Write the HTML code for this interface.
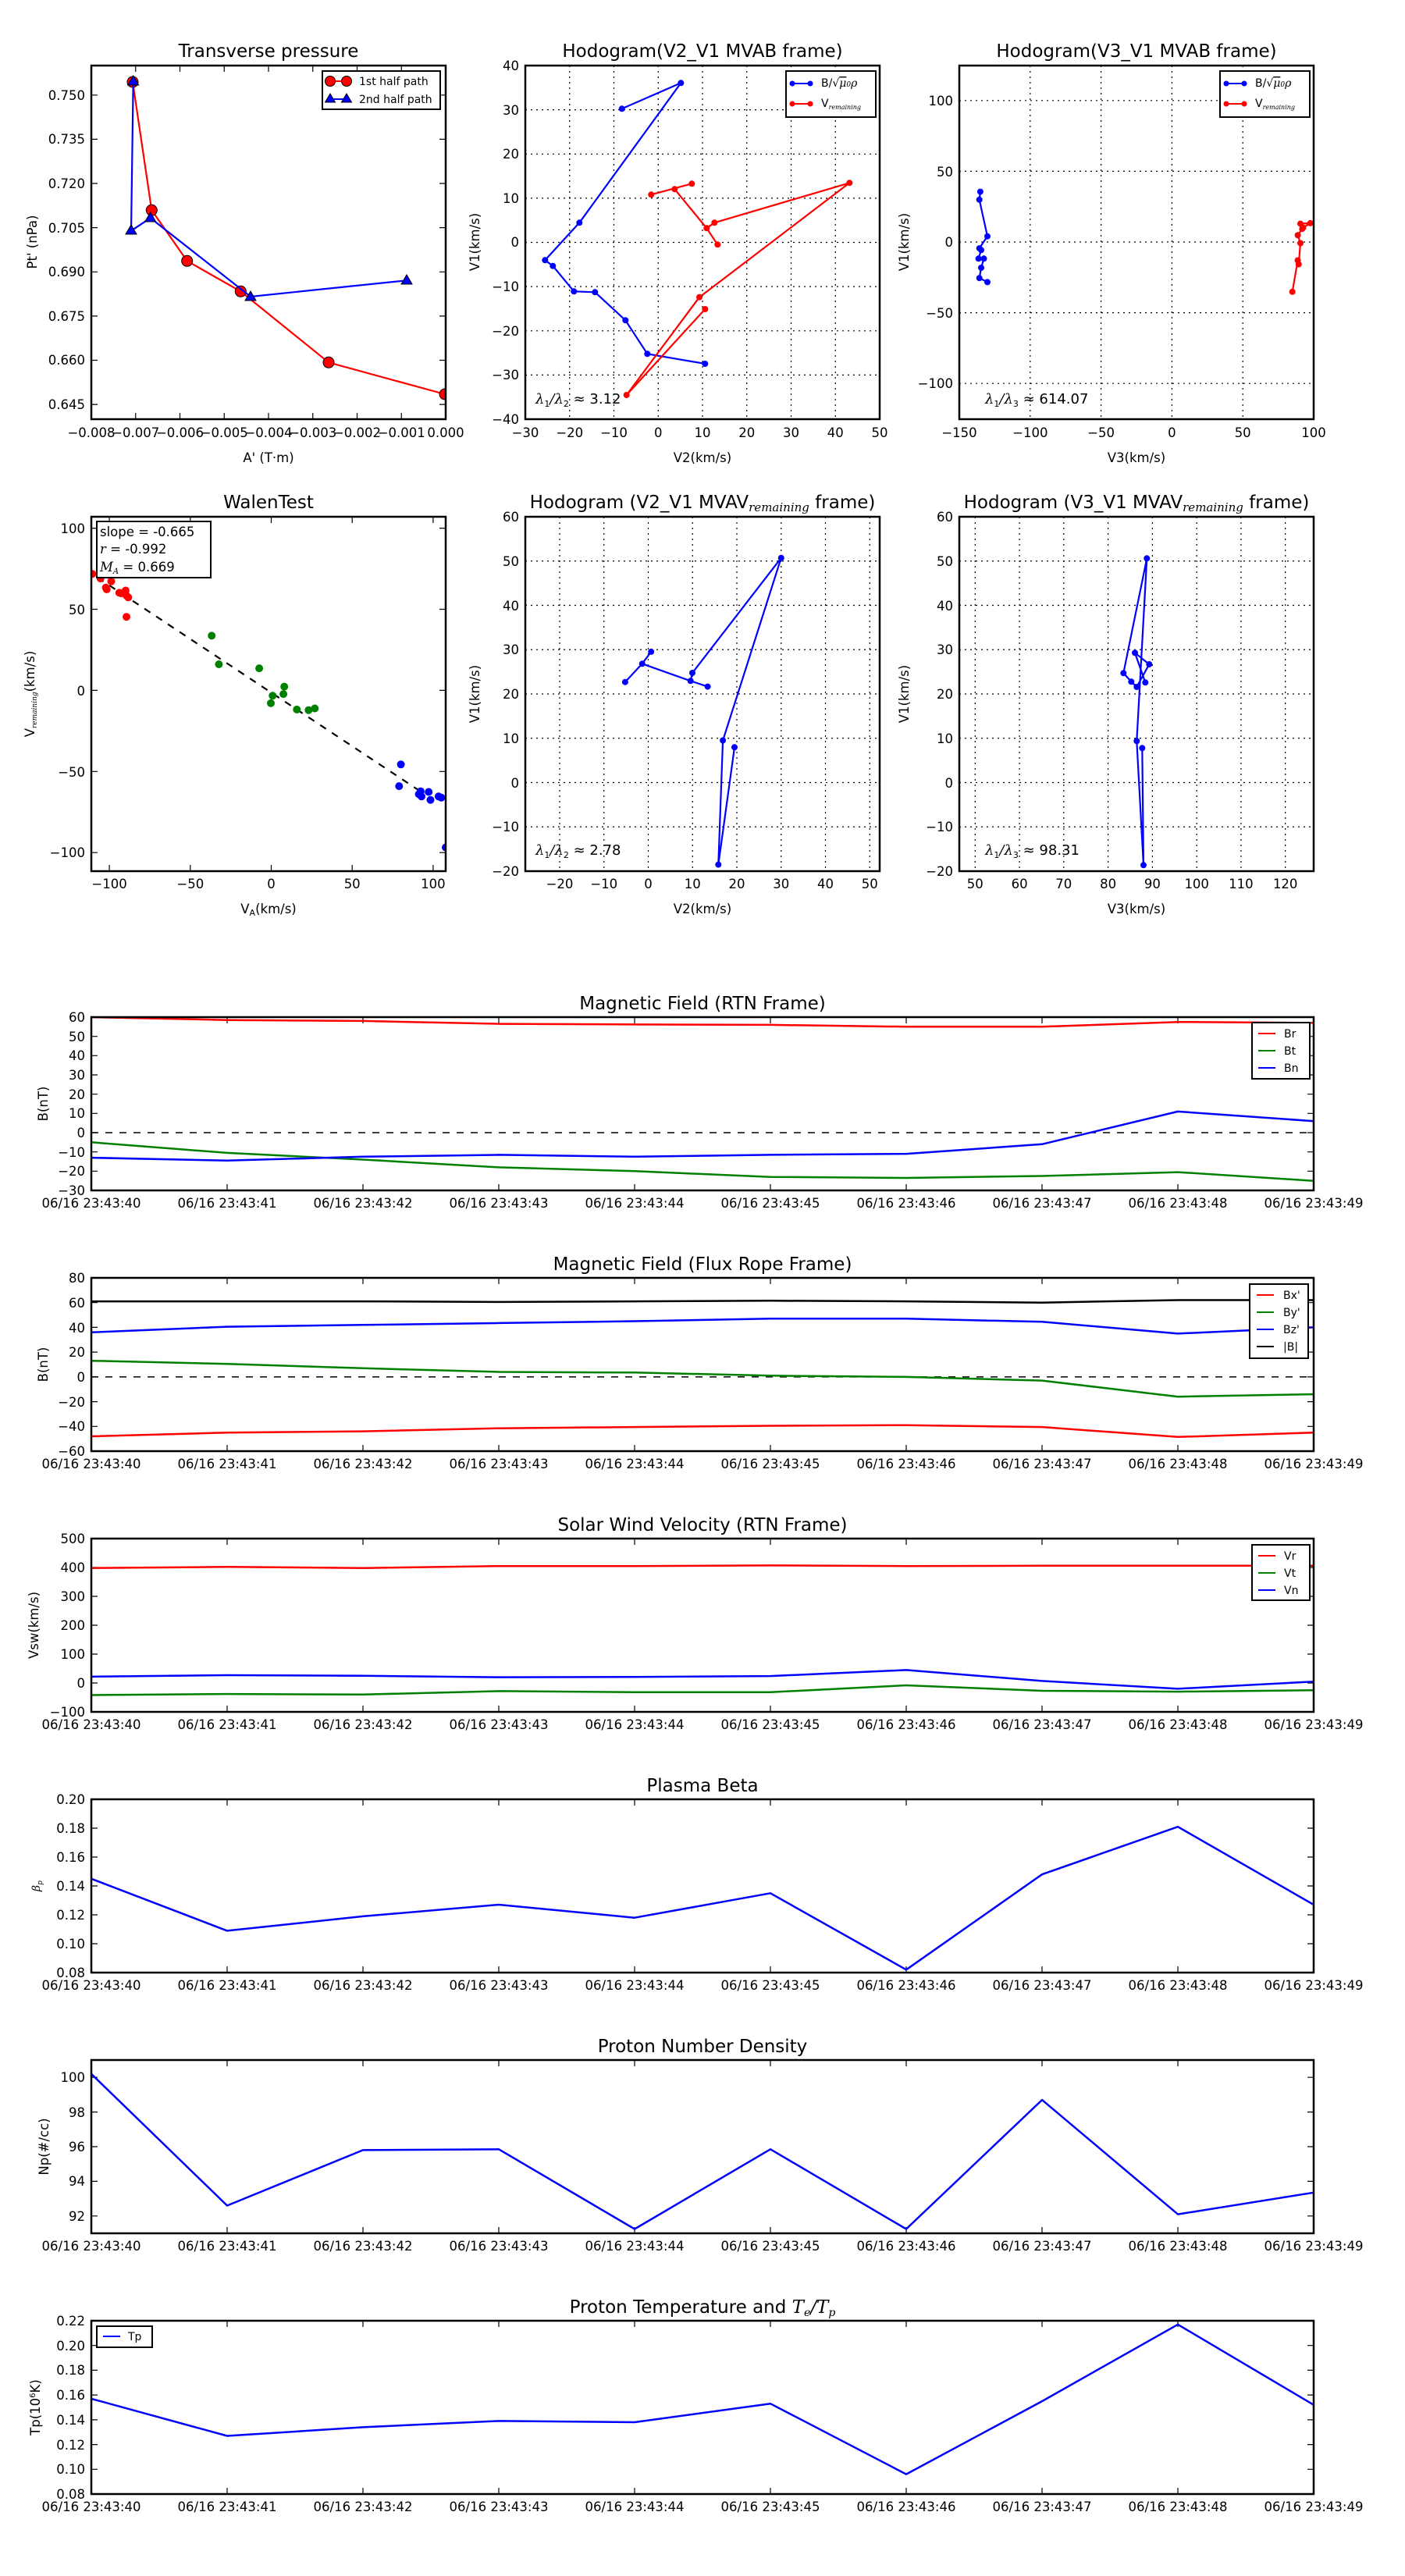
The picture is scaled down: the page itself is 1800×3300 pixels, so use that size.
<!DOCTYPE html>
<html><head><meta charset="utf-8"><style>
html,body{margin:0;padding:0;background:#fff}
svg{display:block}
text{font-family:"DejaVu Sans","Liberation Sans",sans-serif;fill:#000}
.t{font-size:23px;text-anchor:middle}
.tk{font-size:16.5px}
.r{text-anchor:end}
.m{text-anchor:middle}
.lg{font-size:14px}
.ax{fill:none;stroke:#000;stroke-width:2.5}
.tick{stroke:#000;stroke-width:1.2;fill:none}
.grid{stroke:#000;stroke-width:1.2;stroke-dasharray:2 5;fill:none}
.ln{fill:none;stroke-width:2.2;stroke-linejoin:round}
.ts{fill:none;stroke-width:2.5;stroke-linejoin:round}
.mi{font-family:"DejaVu Serif","Liberation Serif",serif;font-style:italic}
</style></head><body>
<svg width="1800" height="3300" viewBox="0 0 1800 3300" xmlns="http://www.w3.org/2000/svg">
<rect width="1800" height="3300" fill="#fff"/>

<!-- ============ Panel 1: Transverse pressure ============ -->
<text class="t" x="344" y="73">Transverse pressure</text>
<path class="tick" d="M173.75,537v-8M230.5,537v-8M287.25,537v-8M344,537v-8M400.75,537v-8M457.5,537v-8M514.25,537v-8M173.75,84v8M230.5,84v8M287.25,84v8M344,84v8M400.75,84v8M457.5,84v8M514.25,84v8
M117,518.1h8M117,461.5h8M117,404.9h8M117,348.3h8M117,291.6h8M117,235h8M117,178.4h8M117,121.8h8
M571,518.1h-8M571,461.5h-8M571,404.9h-8M571,348.3h-8M571,291.6h-8M571,235h-8M571,178.4h-8M571,121.8h-8"/>
<g class="tk r">
<text x="109" y="524">0.645</text><text x="109" y="467">0.660</text><text x="109" y="411">0.675</text><text x="109" y="354">0.690</text><text x="109" y="298">0.705</text><text x="109" y="241">0.720</text><text x="109" y="184">0.735</text><text x="109" y="128">0.750</text>
</g>
<g class="tk m">
<text x="117" y="560">−0.008</text><text x="173.75" y="560">−0.007</text><text x="230.5" y="560">−0.006</text><text x="287.25" y="560">−0.005</text><text x="344" y="560">−0.004</text><text x="400.75" y="560">−0.003</text><text x="457.5" y="560">−0.002</text><text x="514.25" y="560">−0.001</text><text x="571" y="560">0.000</text>
</g>
<text class="tk m" x="344" y="592">A' (T·m)</text>
<text class="tk m" transform="rotate(-90 47 310)" x="47" y="310">Pt' (nPa)</text>
<svg x="117" y="84" width="454" height="453" overflow="hidden"><g transform="translate(-117,-84)">
<polyline class="ln" stroke="#f00" points="170,105 194.3,269.3 239.7,334.3 308.3,373.3 421,464.3 570,505"/>
<g fill="#f00" stroke="#000" stroke-width="1"><circle cx="170" cy="105" r="7"/><circle cx="194.3" cy="269.3" r="7"/><circle cx="239.7" cy="334.3" r="7"/><circle cx="308.3" cy="373.3" r="7"/><circle cx="421" cy="464.3" r="7"/><circle cx="570" cy="505" r="7"/></g>
<polyline class="ln" stroke="#00f" points="170.7,105 168,295.7 192.7,279.3 321,380 521,359.3"/>
<g fill="#00f" stroke="#000" stroke-width="1">
<path d="M170.7,97l7,12h-14z"/><path d="M168,288l7,12h-14z"/><path d="M192.7,272l7,12h-14z"/><path d="M321,373l7,12h-14z"/><path d="M521,352l7,12h-14z"/></g>
</g></svg>
<rect x="413" y="91" width="151" height="49" fill="#fff" stroke="#000" stroke-width="2"/>
<line x1="423" y1="104" x2="444" y2="104" stroke="#f00" stroke-width="2"/>
<circle cx="423" cy="104" r="6.5" fill="#f00" stroke="#000"/><circle cx="444" cy="104" r="6.5" fill="#f00" stroke="#000"/>
<text class="lg" x="460" y="109">1st half path</text>
<line x1="423" y1="127" x2="444" y2="127" stroke="#00f" stroke-width="2"/>
<path d="M423,120l6.5,11h-13zM444,120l6.5,11h-13z" fill="#00f" stroke="#000"/>
<text class="lg" x="460" y="132">2nd half path</text>
<rect class="ax" x="117" y="84" width="454" height="453"/>

<!-- ============ Panel 2: Hodogram V2_V1 MVAB ============ -->
<text class="t" x="900" y="73">Hodogram(V2_V1 MVAB frame)</text>
<path class="grid" d="M729.75,84V537M786.5,84V537M843.25,84V537M900,84V537M956.75,84V537M1013.5,84V537M1070.25,84V537
M673,140.6H1127M673,197.3H1127M673,253.9H1127M673,310.5H1127M673,367.1H1127M673,423.8H1127M673,480.4H1127"/>
<g class="tk r">
<text x="665" y="90">40</text><text x="665" y="147">30</text><text x="665" y="203">20</text><text x="665" y="260">10</text><text x="665" y="316">0</text><text x="665" y="373">−10</text><text x="665" y="430">−20</text><text x="665" y="486">−30</text><text x="665" y="543">−40</text>
</g>
<g class="tk m">
<text x="673" y="560">−30</text><text x="729.75" y="560">−20</text><text x="786.5" y="560">−10</text><text x="843.25" y="560">0</text><text x="900" y="560">10</text><text x="956.75" y="560">20</text><text x="1013.5" y="560">30</text><text x="1070.25" y="560">40</text><text x="1127" y="560">50</text>
</g>
<text class="tk m" x="900" y="592">V2(km/s)</text>
<text class="tk m" transform="rotate(-90 614 310)" x="614" y="310">V1(km/s)</text>
<polyline class="ln" stroke="#00f" points="796.7,139.3 872.3,106.3 742.3,285.3 698.3,333.3 708.3,340.7 735.3,373.3 762.3,374.3 801.3,410.3 829.3,453.3 903.3,466"/>
<g fill="#00f"><circle cx="796.7" cy="139.3" r="4"/><circle cx="872.3" cy="106.3" r="4"/><circle cx="742.3" cy="285.3" r="4"/><circle cx="698.3" cy="333.3" r="4"/><circle cx="708.3" cy="340.7" r="4"/><circle cx="735.3" cy="373.3" r="4"/><circle cx="762.3" cy="374.3" r="4"/><circle cx="801.3" cy="410.3" r="4"/><circle cx="829.3" cy="453.3" r="4"/><circle cx="903.3" cy="466" r="4"/></g>
<polyline class="ln" stroke="#f00" points="834.3,249.3 886.3,235.3"/>
<polyline class="ln" stroke="#f00" points="864.3,242.3 905.3,292.3 919.3,313.3"/>
<polyline class="ln" stroke="#f00" points="905.3,292.3 915.3,285.3 1088.3,234.3 896,380.7 802.7,506 903.3,396"/>
<g fill="#f00"><circle cx="834.3" cy="249.3" r="4"/><circle cx="886.3" cy="235.3" r="4"/><circle cx="864.3" cy="242.3" r="4"/><circle cx="905.3" cy="292.3" r="4"/><circle cx="919.3" cy="313.3" r="4"/><circle cx="915.3" cy="285.3" r="4"/><circle cx="1088.3" cy="234.3" r="4"/><circle cx="896" cy="380.7" r="4"/><circle cx="802.7" cy="506" r="4"/><circle cx="903.3" cy="396" r="4"/></g>
<text x="686" y="517" style="font-size:18px"><tspan class="mi">λ</tspan><tspan style="font-size:11px" dy="4">1</tspan><tspan dy="-4" class="mi">/λ</tspan><tspan style="font-size:11px" dy="4">2</tspan><tspan dy="-4"> ≈ 3.12</tspan></text>
<rect x="1007" y="91" width="115" height="59" fill="#fff" stroke="#000" stroke-width="2"/>
<line x1="1015" y1="107" x2="1038" y2="107" stroke="#00f" stroke-width="2"/><circle cx="1015" cy="107" r="3.5" fill="#00f"/><circle cx="1038" cy="107" r="3.5" fill="#00f"/>
<text class="lg" x="1052" y="111">B/√<tspan class="mi" text-decoration="overline">μ</tspan><tspan class="mi" style="font-size:9px">0</tspan><tspan class="mi">ρ</tspan></text>
<line x1="1015" y1="133" x2="1038" y2="133" stroke="#f00" stroke-width="2"/><circle cx="1015" cy="133" r="3.5" fill="#f00"/><circle cx="1038" cy="133" r="3.5" fill="#f00"/>
<text class="lg" x="1052" y="137">V<tspan class="mi" style="font-size:8px" dy="3">remaining</tspan></text>
<rect class="ax" x="673" y="84" width="454" height="453"/>

<!-- ============ Panel 3: Hodogram V3_V1 MVAB ============ -->
<text class="t" x="1456" y="73">Hodogram(V3_V1 MVAB frame)</text>
<path class="grid" d="M1319.8,84V537M1410.6,84V537M1501.4,84V537M1592.2,84V537M1229,128.8H1683M1229,219.4H1683M1229,310H1683M1229,400.6H1683M1229,491.2H1683"/>
<g class="tk r">
<text x="1221" y="135">100</text><text x="1221" y="226">50</text><text x="1221" y="316">0</text><text x="1221" y="407">−50</text><text x="1221" y="497">−100</text>
</g>
<g class="tk m">
<text x="1229" y="560">−150</text><text x="1319.8" y="560">−100</text><text x="1410.6" y="560">−50</text><text x="1501.4" y="560">0</text><text x="1592.2" y="560">50</text><text x="1683" y="560">100</text>
</g>
<text class="tk m" x="1456" y="592">V3(km/s)</text>
<text class="tk m" transform="rotate(-90 1164 310)" x="1164" y="310">V1(km/s)</text>
<polyline class="ln" stroke="#00f" points="1255.9,245.6 1254.7,255.8 1265,302.7 1254.7,318.1 1257,320.3 1253.6,331.3 1260.5,331.3 1257,343 1254.7,356.2 1265,361.4"/>
<g fill="#00f"><circle cx="1255.9" cy="245.6" r="4"/><circle cx="1254.7" cy="255.8" r="4"/><circle cx="1265" cy="302.7" r="4"/><circle cx="1254.7" cy="318.1" r="4"/><circle cx="1257" cy="320.3" r="4"/><circle cx="1253.6" cy="331.3" r="4"/><circle cx="1260.5" cy="331.3" r="4"/><circle cx="1257" cy="343" r="4"/><circle cx="1254.7" cy="356.2" r="4"/><circle cx="1265" cy="361.4" r="4"/></g>
<polyline class="ln" stroke="#f00" points="1655.7,373.8 1662.6,333.5 1663.8,338.6 1666,311.5 1662.6,301.3 1669.5,291.7 1678.7,285.9 1666,286.6 1668.3,293.2"/>
<g fill="#f00"><circle cx="1655.7" cy="373.8" r="4"/><circle cx="1662.6" cy="333.5" r="4"/><circle cx="1663.8" cy="338.6" r="4"/><circle cx="1666" cy="311.5" r="4"/><circle cx="1662.6" cy="301.3" r="4"/><circle cx="1669.5" cy="291.7" r="4"/><circle cx="1678.7" cy="285.9" r="4"/><circle cx="1666" cy="286.6" r="4"/><circle cx="1668.3" cy="293.2" r="4"/></g>
<text x="1262" y="517" style="font-size:18px"><tspan class="mi">λ</tspan><tspan style="font-size:11px" dy="4">1</tspan><tspan dy="-4" class="mi">/λ</tspan><tspan style="font-size:11px" dy="4">3</tspan><tspan dy="-4"> ≈ 614.07</tspan></text>
<rect x="1563" y="91" width="115" height="59" fill="#fff" stroke="#000" stroke-width="2"/>
<line x1="1571" y1="107" x2="1594" y2="107" stroke="#00f" stroke-width="2"/><circle cx="1571" cy="107" r="3.5" fill="#00f"/><circle cx="1594" cy="107" r="3.5" fill="#00f"/>
<text class="lg" x="1608" y="111">B/√<tspan class="mi" text-decoration="overline">μ</tspan><tspan class="mi" style="font-size:9px">0</tspan><tspan class="mi">ρ</tspan></text>
<line x1="1571" y1="133" x2="1594" y2="133" stroke="#f00" stroke-width="2"/><circle cx="1571" cy="133" r="3.5" fill="#f00"/><circle cx="1594" cy="133" r="3.5" fill="#f00"/>
<text class="lg" x="1608" y="137">V<tspan class="mi" style="font-size:8px" dy="3">remaining</tspan></text>
<rect class="ax" x="1229" y="84" width="454" height="453"/>

<!-- ============ Panel 4: WalenTest ============ -->
<text class="t" x="344" y="651">WalenTest</text>
<path class="tick" d="M140.1,1116v-8M243.8,1116v-8M347.5,1116v-8M451.2,1116v-8M554.9,1116v-8M140.1,662v8M243.8,662v8M347.5,662v8M451.2,662v8M554.9,662v8
M117,676.6h8M117,780.5h8M117,884.4h8M117,988.3h8M117,1092.2h8M571,676.6h-8M571,780.5h-8M571,884.4h-8M571,988.3h-8M571,1092.2h-8"/>
<g class="tk r">
<text x="109" y="683">100</text><text x="109" y="787">50</text><text x="109" y="891">0</text><text x="109" y="995">−50</text><text x="109" y="1098">−100</text>
</g>
<g class="tk m">
<text x="140.1" y="1138">−100</text><text x="243.8" y="1138">−50</text><text x="347.5" y="1138">0</text><text x="451.2" y="1138">50</text><text x="554.9" y="1138">100</text>
</g>
<text class="tk m" x="344" y="1170">V<tspan style="font-size:11px" dy="3">A</tspan><tspan dy="-3">(km/s)</tspan></text>
<text class="tk m" transform="rotate(-90 44 889)" x="44" y="889">V<tspan class="mi" style="font-size:9px" dy="3">remaining</tspan><tspan dy="-3">(km/s)</tspan></text>
<svg x="117" y="662" width="454" height="454" overflow="hidden"><g transform="translate(-117,-662)">
<line x1="110" y1="730" x2="545" y2="1018" stroke="#000" stroke-width="2.2" stroke-dasharray="9 9"/>
<g fill="#f00"><circle cx="118.3" cy="735.2" r="5"/><circle cx="128.7" cy="741" r="5"/><circle cx="136.7" cy="755" r="5"/><circle cx="135.6" cy="752.8" r="5"/><circle cx="142.5" cy="744.7" r="5"/><circle cx="155.1" cy="760.1" r="5"/><circle cx="160.9" cy="756.5" r="5"/><circle cx="162" cy="763" r="5"/><circle cx="164.3" cy="765.3" r="5"/><circle cx="162" cy="790.2" r="5"/><circle cx="152.8" cy="759.4" r="5"/></g>
<g fill="#008000"><circle cx="271.2" cy="814.4" r="5"/><circle cx="280.4" cy="851" r="5"/><circle cx="332.1" cy="856.1" r="5"/><circle cx="349.3" cy="891.3" r="5"/><circle cx="347" cy="900.9" r="5"/><circle cx="364.2" cy="879.6" r="5"/><circle cx="363.1" cy="889.1" r="5"/><circle cx="380.3" cy="908.9" r="5"/><circle cx="395.3" cy="909.7" r="5"/><circle cx="403.3" cy="907.5" r="5"/></g>
<g fill="#00f"><circle cx="513.6" cy="979.3" r="5"/><circle cx="511.3" cy="1007.1" r="5"/><circle cx="536.6" cy="1017.4" r="5"/><circle cx="540" cy="1020.3" r="5"/><circle cx="549.2" cy="1014.5" r="5"/><circle cx="551.5" cy="1024.7" r="5"/><circle cx="561.9" cy="1020.3" r="5"/><circle cx="565.3" cy="1021.8" r="5"/><circle cx="571" cy="1085.6" r="5"/><circle cx="538.9" cy="1013.7" r="5"/></g>
</g></svg>
<rect x="124" y="668" width="146" height="72" fill="#fff" stroke="#000" stroke-width="2"/>
<text class="tk" x="128" y="687">slope = -0.665</text>
<text class="tk" x="128" y="709"><tspan class="mi">r</tspan> = -0.992</text>
<text class="tk" x="128" y="732"><tspan class="mi">M</tspan><tspan class="mi" style="font-size:10px" dy="3">A</tspan><tspan dy="-3"> = 0.669</tspan></text>
<rect class="ax" x="117" y="662" width="454" height="454"/>

<!-- ============ Panel 5: Hodogram V2_V1 MVAV ============ -->
<text class="t" x="900" y="651">Hodogram (V2_V1 MVAV<tspan class="mi" style="font-size:15px" dy="4">remaining</tspan><tspan dy="-4"> frame)</tspan></text>
<path class="grid" d="M717,662V1116M773.75,662V1116M830.5,662V1116M887.25,662V1116M944,662V1116M1000.75,662V1116M1057.5,662V1116M1114.25,662V1116
M673,718.75H1127M673,775.5H1127M673,832.25H1127M673,889H1127M673,945.75H1127M673,1002.5H1127M673,1059.25H1127"/>
<g class="tk r">
<text x="665" y="668">60</text><text x="665" y="725">50</text><text x="665" y="782">40</text><text x="665" y="838">30</text><text x="665" y="895">20</text><text x="665" y="952">10</text><text x="665" y="1009">0</text><text x="665" y="1065">−10</text><text x="665" y="1122">−20</text>
</g>
<g class="tk m">
<text x="717" y="1138">−20</text><text x="773.75" y="1138">−10</text><text x="830.5" y="1138">0</text><text x="887.25" y="1138">10</text><text x="944" y="1138">20</text><text x="1000.75" y="1138">30</text><text x="1057.5" y="1138">40</text><text x="1114.25" y="1138">50</text>
</g>
<text class="tk m" x="900" y="1170">V2(km/s)</text>
<text class="tk m" transform="rotate(-90 614 889)" x="614" y="889">V1(km/s)</text>
<polyline class="ln" stroke="#00f" points="834.2,834.9 822.7,850.3 800.9,873.7"/>
<polyline class="ln" stroke="#00f" points="822.7,850.3 884.7,872.3 906.6,879.6"/>
<polyline class="ln" stroke="#00f" points="884.7,872.3 887,862 1000.8,714.7 926.1,948.5 920.3,1107.6 941,957.3"/>
<g fill="#00f"><circle cx="834.2" cy="834.9" r="4"/><circle cx="822.7" cy="850.3" r="4"/><circle cx="800.9" cy="873.7" r="4"/><circle cx="884.7" cy="872.3" r="4"/><circle cx="906.6" cy="879.6" r="4"/><circle cx="887" cy="862" r="4"/><circle cx="1000.8" cy="714.7" r="4"/><circle cx="926.1" cy="948.5" r="4"/><circle cx="920.3" cy="1107.6" r="4"/><circle cx="941" cy="957.3" r="4"/></g>
<text x="686" y="1095" style="font-size:18px"><tspan class="mi">λ</tspan><tspan style="font-size:11px" dy="4">1</tspan><tspan dy="-4" class="mi">/λ</tspan><tspan style="font-size:11px" dy="4">2</tspan><tspan dy="-4"> ≈ 2.78</tspan></text>
<rect class="ax" x="673" y="662" width="454" height="454"/>

<!-- ============ Panel 6: Hodogram V3_V1 MVAV ============ -->
<text class="t" x="1456" y="651">Hodogram (V3_V1 MVAV<tspan class="mi" style="font-size:15px" dy="4">remaining</tspan><tspan dy="-4"> frame)</tspan></text>
<path class="grid" d="M1249.3,662V1116M1306.1,662V1116M1362.8,662V1116M1419.6,662V1116M1476.4,662V1116M1533.2,662V1116M1589.9,662V1116M1646.7,662V1116
M1229,718.75H1683M1229,775.5H1683M1229,832.25H1683M1229,889H1683M1229,945.75H1683M1229,1002.5H1683M1229,1059.25H1683"/>
<g class="tk r">
<text x="1221" y="668">60</text><text x="1221" y="725">50</text><text x="1221" y="782">40</text><text x="1221" y="838">30</text><text x="1221" y="895">20</text><text x="1221" y="952">10</text><text x="1221" y="1009">0</text><text x="1221" y="1065">−10</text><text x="1221" y="1122">−20</text>
</g>
<g class="tk m">
<text x="1249.3" y="1138">50</text><text x="1306.1" y="1138">60</text><text x="1362.8" y="1138">70</text><text x="1419.6" y="1138">80</text><text x="1476.4" y="1138">90</text><text x="1533.2" y="1138">100</text><text x="1589.9" y="1138">110</text><text x="1646.7" y="1138">120</text>
</g>
<text class="tk m" x="1456" y="1170">V3(km/s)</text>
<text class="tk m" transform="rotate(-90 1164 889)" x="1164" y="889">V1(km/s)</text>
<polyline class="ln" stroke="#00f" points="1463.3,958.3 1465,1108.3 1456.3,949.3 1469.3,715.3 1439.3,862.3 1449.3,873.3 1456.3,880 1472.3,851 1454,836.3 1467.3,874.3"/>
<g fill="#00f"><circle cx="1463.3" cy="958.3" r="4"/><circle cx="1465" cy="1108.3" r="4"/><circle cx="1456.3" cy="949.3" r="4"/><circle cx="1469.3" cy="715.3" r="4"/><circle cx="1439.3" cy="862.3" r="4"/><circle cx="1449.3" cy="873.3" r="4"/><circle cx="1456.3" cy="880" r="4"/><circle cx="1472.3" cy="851" r="4"/><circle cx="1454" cy="836.3" r="4"/><circle cx="1467.3" cy="874.3" r="4"/></g>
<text x="1262" y="1095" style="font-size:18px"><tspan class="mi">λ</tspan><tspan style="font-size:11px" dy="4">1</tspan><tspan dy="-4" class="mi">/λ</tspan><tspan style="font-size:11px" dy="4">3</tspan><tspan dy="-4"> ≈ 98.31</tspan></text>
<rect class="ax" x="1229" y="662" width="454" height="454"/>

<!-- ============ Time series x ticks (shared pattern) ============ -->
<defs>
<g id="xt">
<path class="tick" d="M291,222v-8M465,222v-8M639,222v-8M813,222v-8M987,222v-8M1161,222v-8M1335,222v-8M1509,222v-8M291,0v8M465,0v8M639,0v8M813,0v8M987,0v8M1161,0v8M1335,0v8M1509,0v8"/>
<g class="tk m">
<text x="117" y="244">06/16 23:43:40</text><text x="291" y="244">06/16 23:43:41</text><text x="465" y="244">06/16 23:43:42</text><text x="639" y="244">06/16 23:43:43</text><text x="813" y="244">06/16 23:43:44</text><text x="987" y="244">06/16 23:43:45</text><text x="1161" y="244">06/16 23:43:46</text><text x="1335" y="244">06/16 23:43:47</text><text x="1509" y="244">06/16 23:43:48</text><text x="1683" y="244">06/16 23:43:49</text>
</g>
</g>
</defs>

<!-- ============ Magnetic Field RTN ============ -->
<text class="t" x="900" y="1293">Magnetic Field (RTN Frame)</text>
<use href="#xt" transform="translate(0,1303)"/>
<path class="tick" d="M117,1327.7h8M117,1352.3h8M117,1377h8M117,1401.7h8M117,1426.3h8M117,1451h8M117,1475.7h8M117,1500.3h8M1683,1327.7h-8M1683,1352.3h-8M1683,1377h-8M1683,1401.7h-8M1683,1426.3h-8M1683,1451h-8M1683,1475.7h-8M1683,1500.3h-8"/>
<g class="tk r">
<text x="109" y="1309">60</text><text x="109" y="1334">50</text><text x="109" y="1358">40</text><text x="109" y="1383">30</text><text x="109" y="1408">20</text><text x="109" y="1432">10</text><text x="109" y="1457">0</text><text x="109" y="1482">−10</text><text x="109" y="1506">−20</text><text x="109" y="1531">−30</text>
</g>
<text class="tk m" transform="rotate(-90 61 1414)" x="61" y="1414">B(nT)</text>
<line x1="117" y1="1451" x2="1683" y2="1451" stroke="#000" stroke-width="1.5" stroke-dasharray="9 9"/>
<polyline class="ts" stroke="#f00" points="117,1303 291,1306.7 465,1307.9 639,1311.6 813,1312.4 987,1312.9 1161,1315.3 1335,1315.3 1509,1309.2 1683,1310.4"/>
<polyline class="ts" stroke="#008000" points="117,1463.3 291,1476.9 465,1485.5 639,1495.4 813,1500.3 987,1507.7 1161,1509 1335,1506.5 1509,1501.6 1683,1512.7"/>
<polyline class="ts" stroke="#00f" points="117,1483.1 291,1486.8 465,1481.8 639,1479.4 813,1481.8 987,1479.4 1161,1478.1 1335,1465.8 1509,1423.9 1683,1436.2"/>
<rect x="1604" y="1310" width="74" height="72" fill="#fff" stroke="#000" stroke-width="2"/>
<g stroke-width="2"><line x1="1612" y1="1324" x2="1634" y2="1324" stroke="#f00"/><line x1="1612" y1="1346" x2="1634" y2="1346" stroke="#008000"/><line x1="1612" y1="1368" x2="1634" y2="1368" stroke="#00f"/></g>
<g class="lg"><text x="1645" y="1329">Br</text><text x="1645" y="1351">Bt</text><text x="1645" y="1373">Bn</text></g>
<rect class="ax" x="117" y="1303" width="1566" height="222"/>

<!-- ============ Magnetic Field Flux Rope ============ -->
<text class="t" x="900" y="1627">Magnetic Field (Flux Rope Frame)</text>
<use href="#xt" transform="translate(0,1637)"/>
<path class="tick" d="M117,1668.7h8M117,1700.4h8M117,1732.1h8M117,1763.9h8M117,1795.6h8M117,1827.3h8M1683,1668.7h-8M1683,1700.4h-8M1683,1732.1h-8M1683,1763.9h-8M1683,1795.6h-8M1683,1827.3h-8"/>
<g class="tk r">
<text x="109" y="1643">80</text><text x="109" y="1675">60</text><text x="109" y="1707">40</text><text x="109" y="1738">20</text><text x="109" y="1770">0</text><text x="109" y="1802">−20</text><text x="109" y="1833">−40</text><text x="109" y="1865">−60</text>
</g>
<text class="tk m" transform="rotate(-90 61 1748)" x="61" y="1748">B(nT)</text>
<line x1="117" y1="1763.9" x2="1683" y2="1763.9" stroke="#000" stroke-width="1.5" stroke-dasharray="9 9"/>
<polyline class="ts" stroke="#f00" points="117,1840 291,1835.2 465,1833.6 639,1829.7 813,1828.1 987,1826.5 1161,1825.7 1335,1828.1 1509,1840.8 1683,1835.2"/>
<polyline class="ts" stroke="#008000" points="117,1743.2 291,1747.2 465,1752.8 639,1757.5 813,1758.3 987,1762.3 1161,1763.9 1335,1768.6 1509,1789.2 1683,1786.1"/>
<polyline class="ts" stroke="#00f" points="117,1706.8 291,1699.6 465,1697.3 639,1694.9 813,1692.5 987,1689.3 1161,1689.3 1335,1693.3 1509,1708.4 1683,1700.4"/>
<polyline class="ts" stroke="#000" points="117,1667.1 291,1667.1 465,1667.1 639,1667.9 813,1667.1 987,1666.3 1161,1667.1 1335,1668.7 1509,1665.5 1683,1665.5"/>
<rect x="1601" y="1645" width="75" height="95" fill="#fff" stroke="#000" stroke-width="2"/>
<g stroke-width="2"><line x1="1610" y1="1659" x2="1632" y2="1659" stroke="#f00"/><line x1="1610" y1="1681" x2="1632" y2="1681" stroke="#008000"/><line x1="1610" y1="1703" x2="1632" y2="1703" stroke="#00f"/><line x1="1610" y1="1725" x2="1632" y2="1725" stroke="#000"/></g>
<g class="lg"><text x="1644" y="1664">Bx'</text><text x="1644" y="1686">By'</text><text x="1644" y="1708">Bz'</text><text x="1644" y="1730">|B|</text></g>
<rect class="ax" x="117" y="1637" width="1566" height="222"/>

<!-- ============ Solar Wind Velocity ============ -->
<text class="t" x="900" y="1961">Solar Wind Velocity (RTN Frame)</text>
<use href="#xt" transform="translate(0,1971)"/>
<path class="tick" d="M117,2008h8M117,2045h8M117,2082h8M117,2119h8M117,2156h8M1683,2008h-8M1683,2045h-8M1683,2082h-8M1683,2119h-8M1683,2156h-8"/>
<g class="tk r">
<text x="109" y="1977">500</text><text x="109" y="2014">400</text><text x="109" y="2051">300</text><text x="109" y="2088">200</text><text x="109" y="2125">100</text><text x="109" y="2162">0</text><text x="109" y="2199">−100</text>
</g>
<text class="tk m" transform="rotate(-90 49 2082)" x="49" y="2082">Vsw(km/s)</text>
<polyline class="ts" stroke="#f00" points="117,2008.7 291,2007.3 465,2008.7 639,2006.2 813,2006.2 987,2005.4 1161,2006.2 1335,2005.8 1509,2005.8 1683,2005.8"/>
<polyline class="ts" stroke="#008000" points="117,2171.5 291,2170.1 465,2170.8 639,2166.4 813,2167.8 987,2167.8 1161,2159 1335,2166 1509,2167.1 1683,2165.3"/>
<polyline class="ts" stroke="#00f" points="117,2147.9 291,2146 465,2146.8 639,2148.6 813,2148.2 987,2147.1 1161,2139.4 1335,2153.4 1509,2163.4 1683,2154.2"/>
<rect x="1604" y="1979" width="74" height="71" fill="#fff" stroke="#000" stroke-width="2"/>
<g stroke-width="2"><line x1="1612" y1="1993" x2="1634" y2="1993" stroke="#f00"/><line x1="1612" y1="2015" x2="1634" y2="2015" stroke="#008000"/><line x1="1612" y1="2037" x2="1634" y2="2037" stroke="#00f"/></g>
<g class="lg"><text x="1645" y="1998">Vr</text><text x="1645" y="2020">Vt</text><text x="1645" y="2042">Vn</text></g>
<rect class="ax" x="117" y="1971" width="1566" height="222"/>

<!-- ============ Plasma Beta ============ -->
<text class="t" x="900" y="2295">Plasma Beta</text>
<use href="#xt" transform="translate(0,2305)"/>
<path class="tick" d="M117,2342h8M117,2379h8M117,2416h8M117,2453h8M117,2490h8M1683,2342h-8M1683,2379h-8M1683,2416h-8M1683,2453h-8M1683,2490h-8"/>
<g class="tk r">
<text x="109" y="2311">0.20</text><text x="109" y="2348">0.18</text><text x="109" y="2385">0.16</text><text x="109" y="2422">0.14</text><text x="109" y="2459">0.12</text><text x="109" y="2496">0.10</text><text x="109" y="2533">0.08</text>
</g>
<text transform="rotate(-90 51 2416)" x="51" y="2416" style="font-size:14px;text-anchor:middle"><tspan class="mi">β</tspan><tspan class="mi" style="font-size:9px" dy="3">p</tspan></text>
<polyline class="ts" stroke="#00f" points="117,2406.8 291,2473.4 465,2454.9 639,2440 813,2456.7 987,2425.3 1161,2523.3 1335,2401.2 1509,2340.2 1683,2440"/>
<rect class="ax" x="117" y="2305" width="1566" height="222"/>

<!-- ============ Proton Number Density ============ -->
<text class="t" x="900" y="2629">Proton Number Density</text>
<use href="#xt" transform="translate(0,2639)"/>
<path class="tick" d="M117,2661.2h8M117,2705.6h8M117,2750h8M117,2794.4h8M117,2838.8h8M1683,2661.2h-8M1683,2705.6h-8M1683,2750h-8M1683,2794.4h-8M1683,2838.8h-8"/>
<g class="tk r">
<text x="109" y="2667">100</text><text x="109" y="2712">98</text><text x="109" y="2756">96</text><text x="109" y="2800">94</text><text x="109" y="2845">92</text>
</g>
<text class="tk m" transform="rotate(-90 62 2750)" x="62" y="2750">Np(#/cc)</text>
<polyline class="ts" stroke="#00f" points="117,2656.8 291,2825.5 465,2754.4 639,2753.3 813,2855.5 987,2753.3 1161,2855.5 1335,2690.1 1509,2836.6 1683,2808.8"/>
<rect class="ax" x="117" y="2639" width="1566" height="222"/>

<!-- ============ Proton Temperature ============ -->
<text class="t" x="900" y="2963">Proton Temperature and <tspan class="mi">T</tspan><tspan class="mi" style="font-size:14px" dy="4">e</tspan><tspan class="mi" dy="-4">/T</tspan><tspan class="mi" style="font-size:14px" dy="4">p</tspan></text>
<use href="#xt" transform="translate(0,2973)"/>
<path class="tick" d="M117,3004.7h8M117,3036.4h8M117,3068.1h8M117,3099.9h8M117,3131.6h8M117,3163.3h8M1683,3004.7h-8M1683,3036.4h-8M1683,3068.1h-8M1683,3099.9h-8M1683,3131.6h-8M1683,3163.3h-8"/>
<g class="tk r">
<text x="109" y="2979">0.22</text><text x="109" y="3011">0.20</text><text x="109" y="3042">0.18</text><text x="109" y="3074">0.16</text><text x="109" y="3106">0.14</text><text x="109" y="3138">0.12</text><text x="109" y="3169">0.10</text><text x="109" y="3201">0.08</text>
</g>
<text class="tk m" transform="rotate(-90 51 3084)" x="51" y="3084">Tp(10<tspan style="font-size:10px" dy="-6">6</tspan><tspan dy="6">K)</tspan></text>
<polyline class="ts" stroke="#00f" points="117,3072.9 291,3120.5 465,3109.4 639,3101.4 813,3103 987,3079.2 1161,3169.6 1335,3076.1 1509,2977.8 1683,3080.8"/>
<rect x="124" y="2980" width="71" height="27" fill="#fff" stroke="#000" stroke-width="2"/>
<line x1="132" y1="2993" x2="154" y2="2993" stroke="#00f" stroke-width="2"/>
<text class="lg" x="164" y="2998">Tp</text>
<rect class="ax" x="117" y="2973" width="1566" height="222"/>
</svg>
</body></html>
